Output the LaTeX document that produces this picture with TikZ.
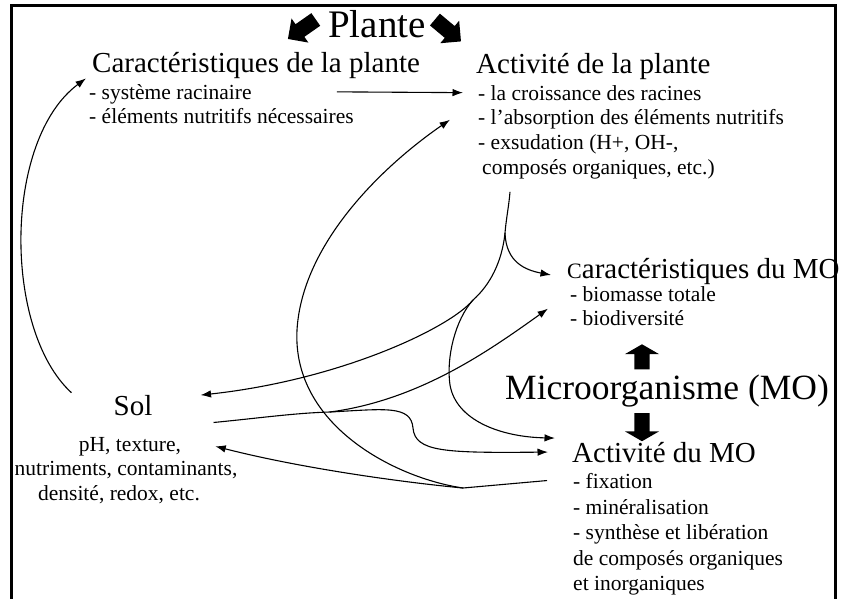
\documentclass[tikz,border=0pt]{standalone}
\usepackage{fontspec}
\setmainfont{Liberation Serif}
\usetikzlibrary{arrows.meta,shapes.arrows,calc}
\begin{document}
\begin{tikzpicture}[x=1pt,y=-1pt,
  conn/.style={line width=1.1pt},
  arr/.style={conn,-{Latex[length=10.5pt,width=7.5pt]}},
  hd/.style={font=\fontsize{29}{33}\selectfont,inner sep=0pt,anchor=base west},
  sb/.style={font=\fontsize{21.5}{24}\selectfont,inner sep=0pt,anchor=base west},
  blk/.style={single arrow,fill=black,draw=none,inner xsep=0pt},
  blkA/.style={blk,inner ysep=7.5pt,single arrow head extend=7pt,minimum height=34pt,single arrow tip angle=90},
  blkB/.style={blk,inner ysep=7.5pt,single arrow head extend=9.5pt,single arrow tip angle=120}]
\useasboundingbox (0,0) rectangle (843,598);
\draw[line width=2.5pt] (11.5,620) -- (11.5,5.5) -- (835.5,5.5) -- (835.5,620);

% title
\node[font=\fontsize{39}{42}\selectfont,inner sep=0pt,anchor=base] (plante) at (377,37) {Plante};
\node[blkA,rotate=215] (pl) at (305,27) {};
\node[blkA,rotate=-40] (pr) at (445,28) {};

% plant characteristics
\node[hd] (cph) at (92,72) {Caractéristiques de la plante};
\node[sb] (cp1) at (89,99) {- système racinaire};
\node[sb] (cp2) at (89,123) {- éléments nutritifs nécessaires};

% plant activity
\node[hd] (aph) at (476,73) {Activité de la plante};
\node[sb] (ap1) at (478,100) {- la croissance des racines};
\node[sb] (ap2) at (478,124) {- l'absorption des éléments nutritifs};
\node[sb] (ap3) at (478,149) {- exsudation (H+, OH-,};
\node[sb] (ap4) at (482,174) {composés organiques, etc.)};

% MO characteristics
\node[hd] (cmh) at (567,278) {{\fontsize{22}{22}\selectfont C}aractéristiques du MO};
\node[sb] (cm1) at (570,301) {- biomasse totale};
\node[sb] (cm2) at (570,325) {- biodiversité};

% Microorganisms
\node[font=\fontsize{35.5}{40}\selectfont,inner sep=0pt,anchor=base west] (mo) at (505,399) {Microorganisme (MO)};
\node[blkB,rotate=90,minimum height=25pt] (mu) at (642,359) {};
\node[blkB,rotate=-90,minimum height=28pt] (md) at (642,425) {};

% MO activity
\node[hd] (amh) at (572,462) {Activité du MO};
\node[sb] (am1) at (573,488) {- fixation};
\node[sb] (am2) at (573,514) {- minéralisation};
\node[sb] (am3) at (573,539) {- synthèse et libération};
\node[sb] (am4) at (573,565) {de composés organiques};
\node[sb] (am5) at (573,590) {et inorganiques};

% soil
\node[hd,anchor=base] (sol) at (133,415) {Sol};
\node[sb,anchor=base] (s1) at (130,451) {pH, texture,};
\node[sb,anchor=base] (s2) at (126,475) {nutriments, contaminants,};
\node[sb,anchor=base] (s3) at (119,500) {densité, redox, etc.};

% junctions
\coordinate (j1) at (463,488);
\coordinate (j2) at (330,412);
\coordinate (j3) at (505,233);
\coordinate (j4) at (473,300);

% soil -> plant characteristics
\draw[arr] ([shift={(-42,-2)}]sol.north west) .. controls (3,330) and (3,140) .. ([shift={(-6,0)}]cph.south west);
% plant characteristics -> plant activity
\draw[arr] ([shift={(85,-2)}]cp1.east) -- ([shift={(-15,0)}]ap1.west);

% MO activity -> soil & plant activity
\draw[conn] ([shift={(-26,0)}]am1.west) -- (j1);
\draw[arr] (j1) .. controls (400,482) and (300,468) .. ([shift={(34,0)}]s1.east);
\draw[arr] (j1) .. controls (395,478) and (292,425) .. (297,330) .. controls (302,245) and (380,168) .. ([shift={(-28,1)}]ap2.west);

% soil -> MO activity & MO characteristics
\draw[conn] ([shift={(61,7)}]sol.south east) .. controls (260,418) and (295,413) .. (j2);
\draw[arr] (j2) .. controls (385,409) and (411,405) .. (413,428) .. controls (415,452) and (445,453) .. ([shift={(-24,0)}]amh.west);
\draw[arr] (j2) .. controls (420,400) and (490,350) .. ([shift={(-22,-9)}]cm2.west);

% plant activity -> MO characteristics, soil, MO activity
\draw[conn] ([shift={(28,13)}]ap4.south west) .. controls (509,205) and (506,220) .. (j3);
\draw[arr] (j3) .. controls (506,262) and (525,270) .. ([shift={(-16,4)}]cmh.west);
\draw[conn] (j3) .. controls (502,262) and (490,285) .. (j4);
\draw[arr] (j4) .. controls (450,328) and (340,380) .. ([shift={(48,-10)}]sol.east);
\draw[arr] (j4) .. controls (455,320) and (446,358) .. (450,385) .. controls (456,420) and (500,437) .. ([shift={(-17,-14)}]amh.west);
\end{tikzpicture}
\end{document}
